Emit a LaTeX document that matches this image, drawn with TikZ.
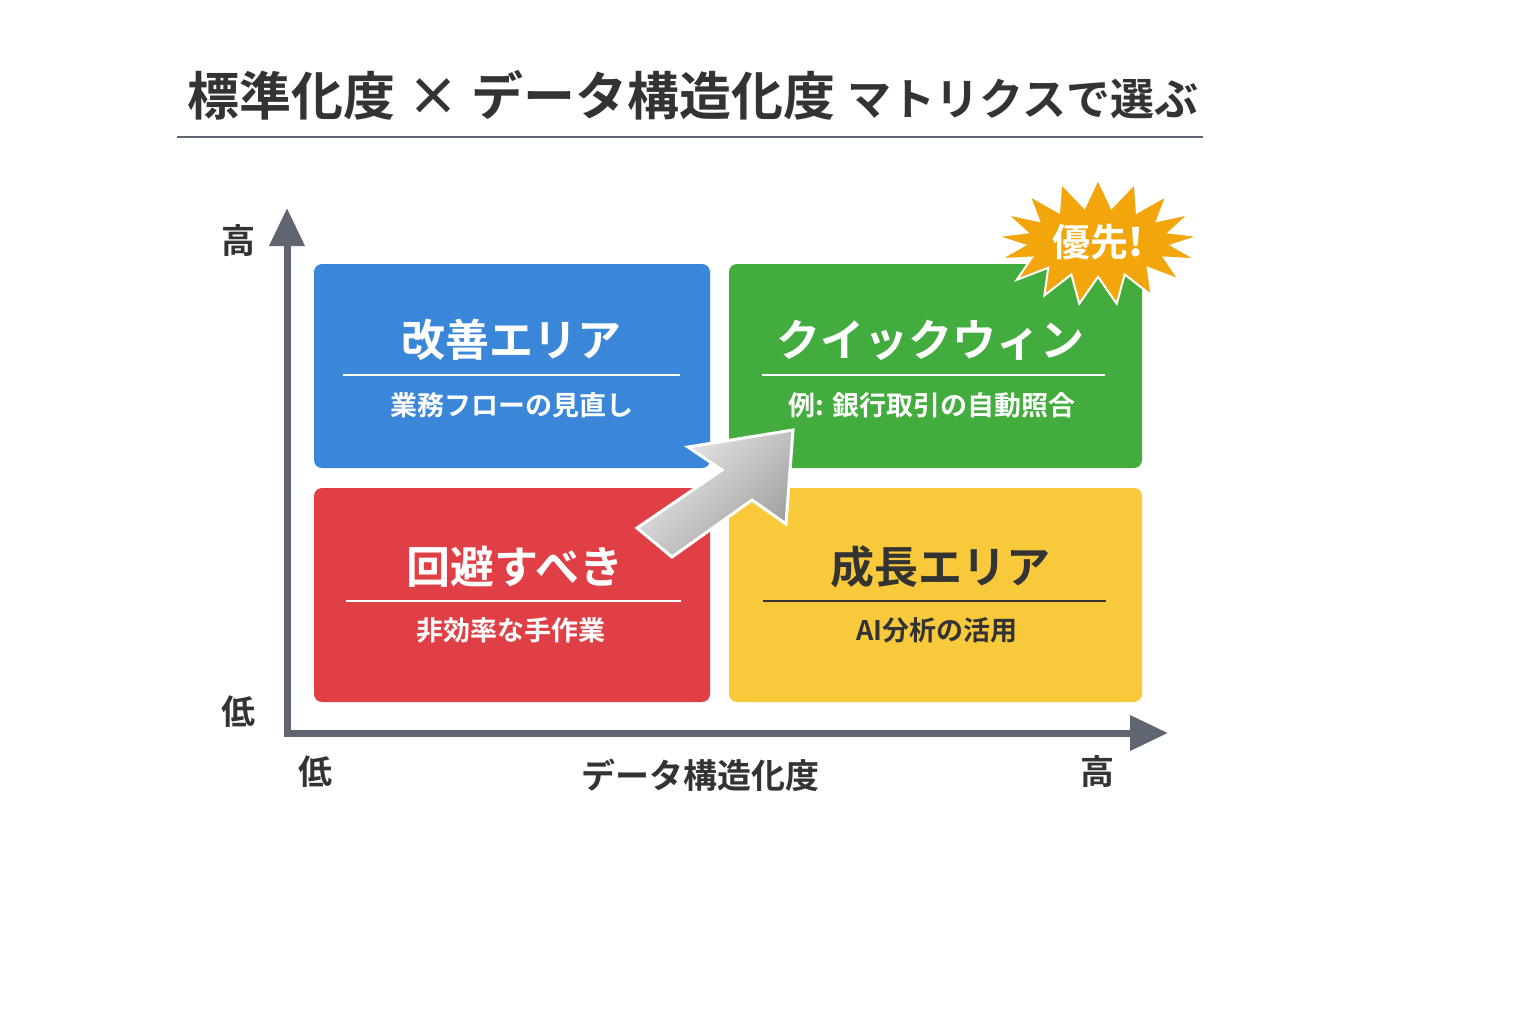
\documentclass[tikz,border=0pt]{standalone}
\usepackage{fontspec}
\setmainfont{Noto Sans CJK JP}[BoldFont={Noto Sans CJK JP Bold}]
\usetikzlibrary{shapes.misc,shapes.geometric,shapes.symbols,arrows.meta}
\definecolor{axisc}{HTML}{5F6672}
\definecolor{bluec}{HTML}{3A87D9}
\definecolor{greenc}{HTML}{43AC3E}
\definecolor{redc}{HTML}{E04045}
\definecolor{yelc}{HTML}{F8C93A}
\definecolor{orc}{HTML}{F2A60C}
\definecolor{txt}{HTML}{333333}
\tikzset{
 quad/.style={rounded corners=4pt,draw=none},
 qtitle/.style={font=\fontsize{22}{26}\selectfont\bfseries},
 qsub/.style={font=\fontsize{13.5}{16}\selectfont\bfseries},
 axl/.style={font=\fontsize{17}{20}\selectfont\bfseries,text=txt},
}
\begin{document}
\begin{tikzpicture}[x=0.5pt,y=-0.5pt]
\fill[white] (0,0) rectangle (1536,1024);
\useasboundingbox (0,0) rectangle (1536,1024);
\node[font=\fontsize{26}{30}\selectfont\bfseries,text=txt] (title) at (693,95) {標準化度 × データ構造化度 {\fontsize{22}{26}\selectfont マトリクスで選ぶ}};
\draw[axisc,line width=1.3pt] (177,137) -- (1203,137);
% boxes
\fill[quad,bluec] (314,264) rectangle (710,468);
\fill[quad,greenc] (729,264) rectangle (1142,468);
\fill[quad,redc] (314,488) rectangle (710,702);
\fill[quad,yelc] (729,488) rectangle (1142,702);
\node[qtitle,text=white] (t1) at (511,340) {改善エリア};
\draw[white,line width=0.6pt] (343,375) -- (680,375);
\node[qsub,text=white] (s1) at (512,405) {業務フローの見直し};
\node[qtitle,text=white] (t2) at (930,340) {クイックウィン};
\draw[white,line width=0.6pt] (762,375) -- (1105,375);
\node[qsub,text=white] (s2) at (932,405) {例: 銀行取引の自動照合};
\node[qtitle,text=white] (t3) at (515,567) {回避すべき};
\draw[white,line width=0.6pt] (346,601) -- (681,601);
\node[qsub,text=white] (s3) at (511,630) {非効率な手作業};
\node[qtitle,text=txt] (t4) at (940,567) {成長エリア};
\draw[txt,line width=0.6pt] (763,601) -- (1106,601);
\node[qsub,text=txt] (s4) at (937,630) {AI分析の活用};
% axes
\coordinate (o) at (287,733);
\coordinate (ytop) at (287,208);
\coordinate (xend) at (1168,733);
\draw[axisc,line width=3.5pt,-{Triangle[length=19pt,width=17pt]}] (287,736) -- (ytop);
\draw[axisc,line width=3.5pt,-{Triangle[length=19pt,width=17pt]}] (284,733) -- (xend);
\node[axl] (yh) at (238,241) {高};
\node[axl] (yl) at (238,712) {低};
\node[axl] (xl) at (315,772) {低};
\node[axl] (xt) at (700,775) {データ構造化度};
\node[axl] (xh) at (1097,772) {高};
% arrow
\shade[left color=white!85!gray,right color=gray!75!white,shading angle=45,draw=white,line width=1.5pt,line join=miter]
 (672,557) -- (752,500) -- (786,524) -- (793,430) -- (688,447) -- (722,470) -- (637,528) -- cycle;
% burst
\node[starburst,starburst points=17,starburst point height=14pt,random starburst=0,fill=orc,draw=white,line width=1pt,minimum width=78pt,minimum height=56pt,font=\fontsize{19}{22}\selectfont\bfseries,text=white] (burst) at (1098,242) {優先\textit{!}};
\end{tikzpicture}
\end{document}
